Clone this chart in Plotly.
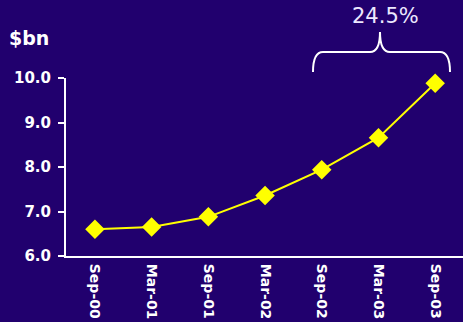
import plotly.graph_objects as go

# Half-yearly values in $bn
periods = ["Sep-00", "Mar-01", "Sep-01", "Mar-02", "Sep-02", "Mar-03", "Sep-03"]
values = [6.60, 6.65, 6.88, 7.36, 7.94, 8.66, 9.88]
y_ticks = [6.0, 7.0, 8.0, 9.0, 10.0]
growth_label = "24.5%"
unit_label = "$bn"

BG = "#21006E"
YELLOW = "#FFFF00"
WHITE = "#FFFFFF"

W, H = 463, 322
M_L, M_R, M_T, M_B = 66, 0, 78, 66
PLOT_W = W - M_L - M_R
PLOT_H = H - M_T - M_B


def px_to_paper(px, py):
    """Convert page pixel coordinates into paper coordinates."""
    return (px - M_L) / PLOT_W, (H - M_B - py) / PLOT_H


def brace_path(x0, x1, y_base, y_bar, y_tip, xm):
    """Curly brace opening downwards, as an SVG path in paper units."""
    def p(px, py):
        X, Y = px_to_paper(px, py)
        return f"{X:.5f},{Y:.5f}"
    r = 10
    return (
        f"M {p(x0, y_base)} "
        f"Q {p(x0, y_bar)} {p(x0 + r, y_bar)} "
        f"L {p(xm - r, y_bar)} "
        f"Q {p(xm, y_bar)} {p(xm, y_tip)} "
        f"Q {p(xm, y_bar)} {p(xm + r, y_bar)} "
        f"L {p(x1 - r, y_bar)} "
        f"Q {p(x1, y_bar)} {p(x1, y_base)}"
    )


fig = go.Figure()
fig.add_trace(go.Scatter(
    x=periods,
    y=values,
    mode="lines+markers",
    line=dict(color=YELLOW, width=2),
    marker=dict(symbol="diamond", size=15, color=YELLOW),
    cliponaxis=False,
    hoverinfo="x+y",
))

fig.add_shape(
    type="path",
    xref="paper", yref="paper",
    path=brace_path(313, 450, 72, 52, 32, 380),
    line=dict(color=WHITE, width=2),
)

ux, uy = px_to_paper(7, 38.5)
fig.add_annotation(
    text=unit_label, xref="paper", yref="paper", x=ux, y=uy,
    xanchor="left", yanchor="middle", showarrow=False,
    font=dict(family="DejaVu Sans", size=19, color=WHITE, weight="bold"),
)

gx, gy = px_to_paper(385, 16)
fig.add_annotation(
    text=growth_label, xref="paper", yref="paper", x=gx, y=gy,
    xanchor="center", yanchor="middle", showarrow=False,
    font=dict(family="DejaVu Sans", size=21, color="#ECE8FF"),
)

fig.update_layout(
    width=W, height=H,
    margin=dict(l=M_L, r=M_R, t=M_T, b=M_B, pad=0),
    paper_bgcolor=BG, plot_bgcolor=BG,
    showlegend=False,
    xaxis=dict(
        type="category",
        range=[-0.51, 6.49],
        showgrid=False, zeroline=False,
        showline=True, linecolor=WHITE, linewidth=2,
        ticks="", tickangle=90, ticklabelstandoff=3,
        tickfont=dict(family="DejaVu Sans", size=14, color=WHITE, weight="bold"),
    ),
    yaxis=dict(
        range=[6, 10],
        tickvals=y_ticks, tickformat=".1f",
        showgrid=False, zeroline=False,
        showline=True, linecolor=WHITE, linewidth=2,
        ticks="outside", ticklen=6, tickwidth=2, tickcolor=WHITE,
        ticklabelstandoff=4,
        tickfont=dict(family="DejaVu Sans", size=15, color=WHITE, weight="bold"),
    ),
)

fig.write_html("out.html")
